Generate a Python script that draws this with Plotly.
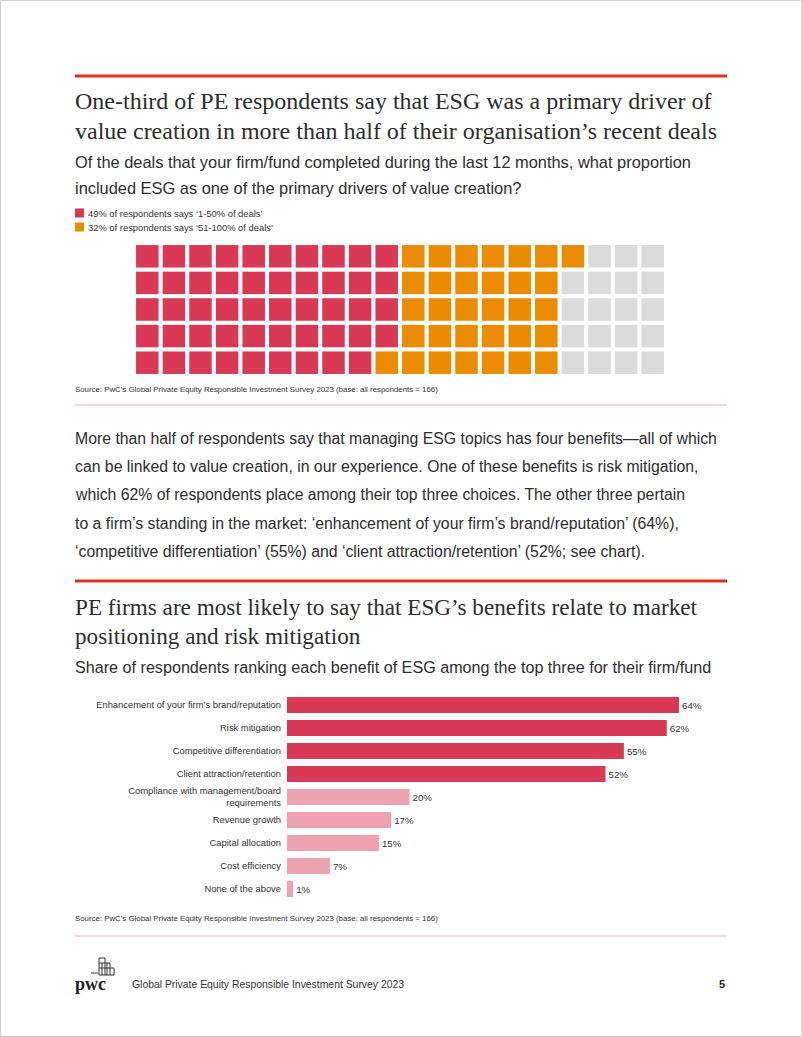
import plotly.graph_objects as go

# ---------------- data ----------------
waffle_labels = ["49% of respondents says \u20181-50% of deals\u2019",
                 "32% of respondents says \u201851-100% of deals\u2019",
                 "Other"]
waffle_counts = [49, 32, 19]

bar_categories = [
    "Enhancement of your firm\u2019s brand/reputation",
    "Risk mitigation",
    "Competitive differentiation",
    "Client attraction/retention",
    "Compliance with management/board<br>requirements",
    "Revenue growth",
    "Capital allocation",
    "Cost efficiency",
    "None of the above",
]
bar_values = [64, 62, 55, 52, 20, 17, 15, 7, 1]
top_group_size = 4

title1 = ["One-third of PE respondents say that ESG was a primary driver of",
          "value creation in more than half of their organisation\u2019s recent deals"]
subtitle1 = ["Of the deals that your firm/fund completed during the last 12 months, what proportion",
             "included ESG as one of the primary drivers of value creation?"]
paragraph = [
    "More than half of respondents say that managing ESG topics has four benefits\u2014all of which",
    "can be linked to value creation, in our experience. One of these benefits is risk mitigation,",
    "which 62% of respondents place among their top three choices. The other three pertain",
    "to a firm\u2019s standing in the market: \u2018enhancement of your firm\u2019s brand/reputation\u2019 (64%),",
    "\u2018competitive differentiation\u2019 (55%) and \u2018client attraction/retention\u2019 (52%; see chart).",
]
title2 = ["PE firms are most likely to say that ESG\u2019s benefits relate to market",
          "positioning and risk mitigation"]
subtitle2 = "Share of respondents ranking each benefit of ESG among the top three for their firm/fund"
source_text = "Source: PwC\u2019s Global Private Equity Responsible Investment Survey 2023 (base: all respondents = 166)"
footer_text = "Global Private Equity Responsible Investment Survey 2023"
page_number = "5"

# ---------------- style ----------------
W, H = 802, 1037
RED = "#D93954"
ORANGE = "#EB8C00"
GREY = "#DBDBDB"
PINK = "#EEA1AF"
RULE = "#E0301E"
TEXT = "#2D2D2D"
SANS = "Liberation Sans, Arial, sans-serif"
SERIF = "Liberation Serif, DejaVu Serif, serif"


def px(x):
    return x / W


def py(y):
    return 1 - y / H


fig = go.Figure()

# ---------------- waffle ----------------
waffle_colors = [RED, ORANGE, GREY]
start = 0
for lab, cnt, col in zip(waffle_labels, waffle_counts, waffle_colors):
    idx = list(range(start, start + cnt))
    start += cnt
    fig.add_trace(go.Scatter(
        x=[i // 5 for i in idx], y=[i % 5 for i in idx],
        mode="markers", name=lab,
        marker=dict(symbol="square", size=22.5, color=col, line=dict(width=0)),
        xaxis="x2", yaxis="y2", hoverinfo="skip", showlegend=False))

pitch = 26.6
wx0, wy0 = 134, 243
fig.update_layout(
    xaxis2=dict(domain=[px(wx0), px(wx0 + 20 * pitch)], range=[-0.5, 19.5],
                visible=False, fixedrange=True),
    yaxis2=dict(domain=[py(wy0 + 5 * pitch), py(wy0)], range=[4.5, -0.5],
                visible=False, fixedrange=True, anchor="x2"),
)

# ---------------- bars ----------------
bar_colors = [RED if i < top_group_size else PINK for i in range(len(bar_values))]
fig.add_trace(go.Bar(
    x=bar_values, y=bar_categories, orientation="h",
    marker=dict(color=bar_colors, line=dict(width=0)),
    width=0.7,
    text=[f"{v}%" for v in bar_values], textposition="outside",
    textfont=dict(family=SANS, size=9.7, color="#333333"),
    cliponaxis=False, xaxis="x", yaxis="y", hoverinfo="skip", showlegend=False))

ppu = 6.125
bx0 = 287
fig.update_layout(
    xaxis=dict(domain=[px(bx0), px(bx0 + 70 * ppu)], range=[0, 70], visible=False,
               fixedrange=True),
    yaxis=dict(domain=[py(900.5), py(693.5)], autorange="reversed",
               categoryorder="array", categoryarray=bar_categories,
               showline=False, showgrid=False, ticks="", ticklabelstandoff=5,
               tickfont=dict(family=SANS, size=9.4, color="#333333"),
               fixedrange=True, anchor="x"),
    bargap=0.3,
)

# ---------------- text & decorations ----------------
ann = []
shapes = []


def text(x, y, s, size, family=SANS, color=TEXT, xanchor="left", bold=False):
    if bold:
        s = f"<b>{s}</b>"
    ann.append(dict(x=px(x), y=py(y), xref="paper", yref="paper", text=s,
                    showarrow=False, xanchor=xanchor, yanchor="middle",
                    font=dict(family=family, size=size, color=color)))


def hline(x0, x1, y, color, width):
    shapes.append(dict(type="line", xref="paper", yref="paper",
                       x0=px(x0), x1=px(x1), y0=py(y), y1=py(y),
                       line=dict(color=color, width=width)))


# page frame
shapes.append(dict(type="rect", xref="paper", yref="paper", x0=px(0.5), x1=px(801.5),
                   y0=py(1036.5), y1=py(0.5), line=dict(color="#CFCFCF", width=1)))

hline(75, 727, 76, RULE, 3)
for i, line in enumerate(title1):
    text(73, 101 + i * 30, line, 24.0, family=SERIF)
for i, line in enumerate(subtitle1):
    text(73, 162 + i * 26, line, 16.4)

legend_colors = [RED, ORANGE]
for i, (lab, col) in enumerate(zip(waffle_labels[:2], legend_colors)):
    y = 213 + i * 14
    shapes.append(dict(type="rect", xref="paper", yref="paper",
                       x0=px(75), x1=px(84), y0=py(y + 4.5), y1=py(y - 4.5),
                       fillcolor=col, line=dict(width=0)))
    text(86, y, lab, 9.4, color="#333333")

text(73, 390, source_text, 7.85, color="#333333")
hline(75, 727, 405, "#F2B0A8", 1)

for i, line in enumerate(paragraph):
    text(73, 438 + i * 28.4, line, 15.8)

hline(75, 727, 581, RULE, 3)
for i, line in enumerate(title2):
    text(73, 607 + i * 29, line, 23.2, family=SERIF)
text(73, 667, subtitle2, 16.15)

text(73, 918, source_text, 7.85, color="#333333")
hline(75, 727, 936, "#F2B0A8", 1)

# footer logo (simplified pwc mark)
text(73, 984, "pwc", 18, family=SERIF, color="#222222", bold=True)
lc = "#333333"
for (x0, y0, x1, y1) in [
    (91, 973, 98, 973),
    (99, 958, 99, 975), (99, 958, 105, 958), (105, 958, 105, 975),
    (99, 963, 110, 963), (110, 963, 110, 975), (99, 975, 114, 975),
    (99, 968, 114, 968), (114, 968, 114, 975), (102, 963, 102, 975),
    (107, 963, 107, 975),
]:
    shapes.append(dict(type="line", xref="paper", yref="paper",
                       x0=px(x0), x1=px(x1), y0=py(y0), y1=py(y1),
                       line=dict(color=lc, width=1)))

text(130, 984, footer_text, 10.4, color="#333333")
text(727, 984, page_number, 11, color="#222222", xanchor="right", bold=True)

fig.update_layout(
    width=W, height=H, margin=dict(l=0, r=0, t=0, b=0),
    paper_bgcolor="white", plot_bgcolor="white",
    annotations=ann, shapes=shapes, showlegend=False,
    font=dict(family=SANS, color=TEXT),
)

fig.write_html("out.html", config={"displayModeBar": False})
